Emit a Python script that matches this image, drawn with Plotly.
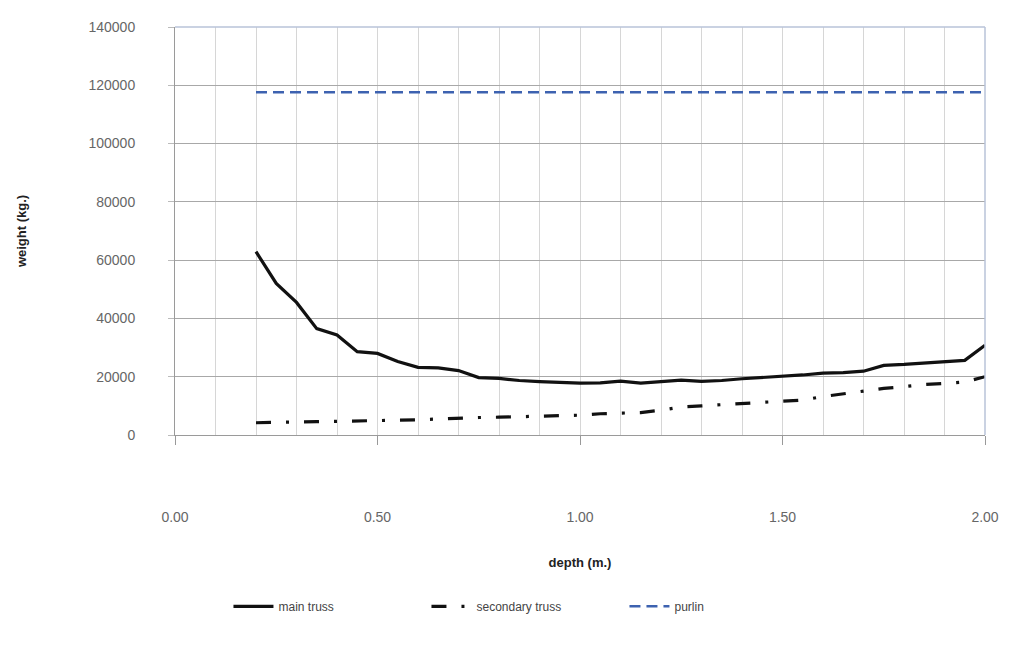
import plotly.graph_objects as go

# truss depth (m.)
depth = [0.20, 0.25, 0.30, 0.35, 0.40, 0.45, 0.50, 0.55, 0.60, 0.65,
         0.70, 0.75, 0.80, 0.85, 0.90, 0.95, 1.00, 1.05, 1.10, 1.15,
         1.20, 1.25, 1.30, 1.35, 1.40, 1.45, 1.50, 1.55, 1.60, 1.65,
         1.70, 1.75, 1.80, 1.85, 1.90, 1.95, 2.00]

# weights (kg.)
main_truss = [62900, 52000, 45500, 36500, 34300, 28600, 28000, 25200, 23200, 23000,
              22100, 19700, 19400, 18700, 18300, 18000, 17800, 17900, 18500, 17800,
              18200, 18800, 18400, 18700, 19300, 19700, 20100, 20600, 21200, 21400,
              21900, 23900, 24200, 24600, 25000, 25600, 30800]

secondary_truss = [4200, 4400, 4500, 4600, 4700, 4800, 4900, 5000, 5200, 5500,
                   5800, 6000, 6100, 6300, 6500, 6600, 6800, 7300, 7500, 7700,
                   8500, 9600, 10000, 10400, 10900, 11200, 11600, 12000, 13200, 14200,
                   15000, 16000, 16600, 17300, 17700, 18200, 20000]

purlin = [117600] * len(depth)

x_ticks = [0.0, 0.5, 1.0, 1.5, 2.0]
x_tick_labels = ["0.00", "0.50", "1.00", "1.50", "2.00"]
y_ticks = [0, 20000, 40000, 60000, 80000, 100000, 120000, 140000]
y_tick_labels = ["0", "20000", "40000", "60000", "80000", "100000", "120000", "140000"]

FONT = "Liberation Sans, Arial, sans-serif"

fig = go.Figure()
fig.add_trace(go.Scatter(
    x=depth, y=main_truss, name="main truss", mode="lines",
    line=dict(color="#111111", width=3.2)))
fig.add_trace(go.Scatter(
    x=depth, y=secondary_truss, name="secondary truss", mode="lines",
    line=dict(color="#111111", width=3.2, dash="15px,15px,3px,15px")))
fig.add_trace(go.Scatter(
    x=depth, y=purlin, name="purlin", mode="lines",
    line=dict(color="#3d62b0", width=2.5, dash="11px,6px")))

fig.update_layout(
    width=1016, height=651,
    margin=dict(l=175, r=31, t=27, b=216),
    paper_bgcolor="white", plot_bgcolor="white",
    font=dict(family=FONT, color="#555555"),
    showlegend=True,
    legend=dict(orientation="h", x=0.066, xanchor="left", y=-0.42, yanchor="middle",
                font=dict(size=12, color="#444444"), itemwidth=40,
                entrywidth=143, entrywidthmode="pixels",
                bgcolor="rgba(0,0,0,0)"),
    xaxis=dict(
        range=[0, 2.0], tickvals=x_ticks, ticktext=x_tick_labels,
        tickfont=dict(size=14, color="#666666"),
        ticks="outside", ticklen=9, tickcolor="#999999",
        ticklabelstandoff=60,
        showgrid=True, gridcolor="#d6d6d6", gridwidth=1,
        minor=dict(dtick=0.1, tick0=0, showgrid=True, gridcolor="#d6d6d6", gridwidth=1),
        showline=True, linecolor="#9a9a9a", linewidth=1,
        zeroline=False,
        title=dict(text="<b>depth (m.)</b>", font=dict(size=13, color="#222222"), standoff=34),
    ),
    yaxis=dict(
        range=[0, 140000], tickvals=y_ticks, ticktext=y_tick_labels,
        tickfont=dict(size=14, color="#666666"),
        ticks="outside", ticklen=6, tickcolor="#bbbbbb",
        ticklabelstandoff=30,
        showgrid=True, gridcolor="#a8a8a8", gridwidth=1,
        showline=True, linecolor="#9a9a9a", linewidth=1,
        zeroline=False,
        title=dict(text="<b>weight (kg.)</b>", font=dict(size=13, color="#222222"), standoff=58),
    ),
)

# light frame along the top and right of the plotting area
fig.add_shape(type="line", xref="paper", yref="paper", x0=0, x1=1, y0=1, y1=1,
              line=dict(color="#b9c3d8", width=1.5))
fig.add_shape(type="line", xref="paper", yref="paper", x0=1, x1=1, y0=0, y1=1,
              line=dict(color="#b9c3d8", width=1.5))

fig.write_html("out.html")
